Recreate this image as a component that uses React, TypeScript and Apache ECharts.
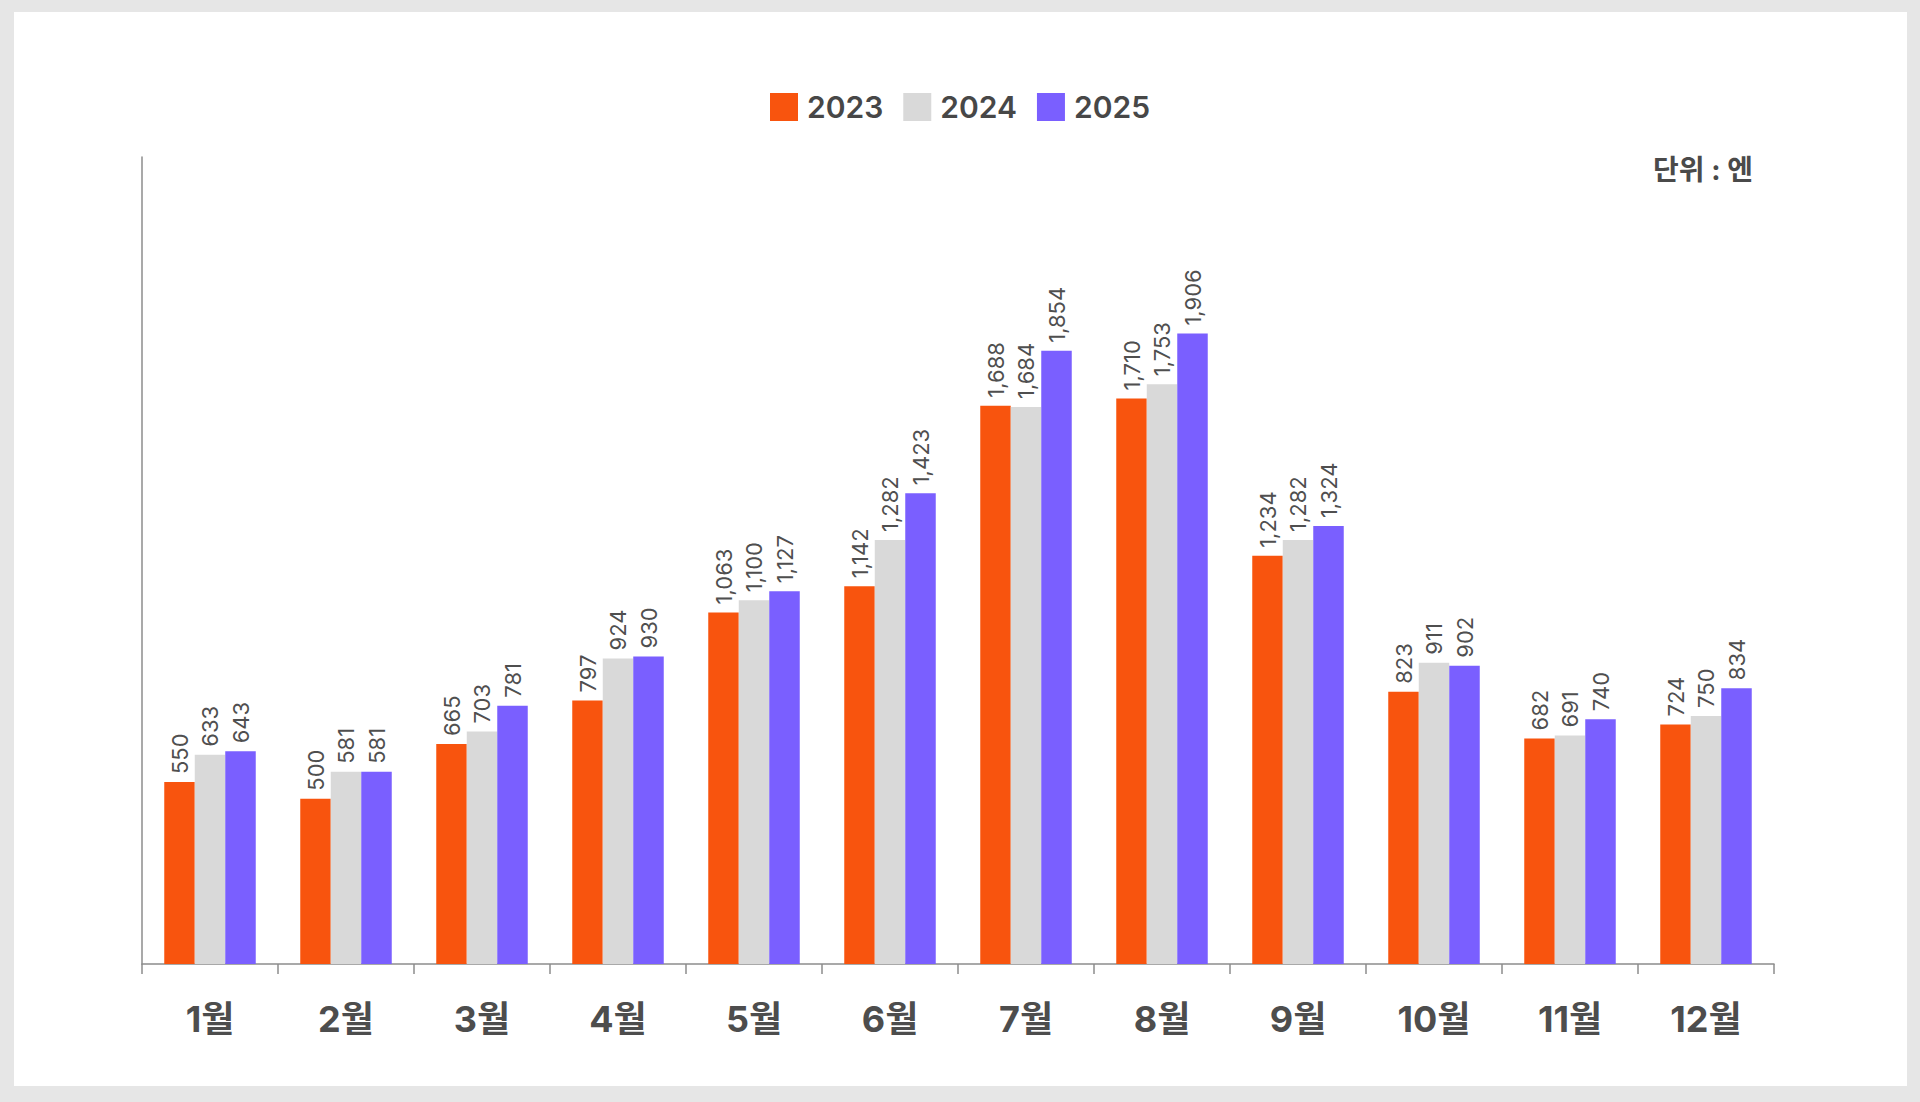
import React, { useEffect, useRef } from "react";
import * as echarts from "echarts";

const categories = ["1월", "2월", "3월", "4월", "5월", "6월", "7월", "8월", "9월", "10월", "11월", "12월"];
const seriesNames = ["2023", "2024", "2025"];
const values2023 = [550, 500, 665, 797, 1063, 1142, 1688, 1710, 1234, 823, 682, 724];
const values2024 = [633, 581, 703, 924, 1100, 1282, 1684, 1753, 1282, 911, 691, 750];
const values2025 = [643, 581, 781, 930, 1127, 1423, 1854, 1906, 1324, 902, 740, 834];
const colors = ["#F8540E", "#D9D9D9", "#7A5FFF"];
const unitText = "단위 : 엔";

const FONT = "Inter, 'Noto Sans CJK KR', sans-serif";

export default function App() {
  const ref = useRef<HTMLDivElement>(null);
  useEffect(() => {
    if (!ref.current) return;
    const chart = echarts.init(ref.current, null, { renderer: "svg" });
    const allValues = [values2023, values2024, values2025];
    chart.setOption({
      animation: false,
      textStyle: { fontFamily: FONT },
      legend: {
        data: seriesNames,
        top: 87,
        left: "center",
        itemWidth: 28,
        itemHeight: 28,
        itemGap: 20,
        icon: "rect",
        textStyle: { fontSize: 30, fontWeight: 600, color: "#474747", fontFamily: FONT, padding: [0, 0, 0, 4] },
      },
      graphic: [
        {
          type: "text",
          right: 1920 - 1753,
          top: 156,
          style: { text: unitText, fontSize: 28, fontWeight: 700, fill: "#4a4a4a", fontFamily: FONT },
        },
      ],
      grid: { left: 142, right: 1920 - 1774, top: 157, bottom: 1102 - 964, containLabel: false },
      xAxis: {
        type: "category",
        data: categories,
        boundaryGap: true,
        axisLine: { show: true, lineStyle: { color: "#8c8c8c", width: 1.5 } },
        axisTick: { show: true, length: 10, lineStyle: { color: "#8c8c8c", width: 1.5 } },
        axisLabel: { fontSize: 36, fontWeight: 700, color: "#4d4d4d", margin: 37, fontFamily: FONT },
      },
      yAxis: {
        type: "value",
        min: 0,
        max: 2440,
        axisLine: { show: true, lineStyle: { color: "#8c8c8c", width: 1.5 } },
        axisTick: { show: false },
        axisLabel: { show: false },
        splitLine: { show: false },
      },
      series: seriesNames.map((name, i) => ({
        name,
        type: "bar",
        data: allValues[i],
        barWidth: 30.5,
        barGap: "0%",
        itemStyle: { color: colors[i] },
        label: {
          show: true,
          position: "top",
          rotate: 90,
          align: "left",
          verticalAlign: "middle",
          distance: 8,
          fontSize: 22,
          color: "#4f4f4f",
          fontFamily: FONT,
          formatter: (p: any) => Number(p.value).toLocaleString("en-US"),
        },
      })),
    });
    return () => chart.dispose();
  }, []);
  return (
    <div style={{ position: "fixed", left: 0, top: 0, width: 1920, height: 1102, background: "#e6e6e6" }}>
      <div style={{ position: "absolute", left: 14, top: 12, width: 1893, height: 1074, background: "#ffffff" }} />
      <div ref={ref} style={{ position: "absolute", left: 0, top: 0, width: 1920, height: 1102 }} />
    </div>
  );
}
